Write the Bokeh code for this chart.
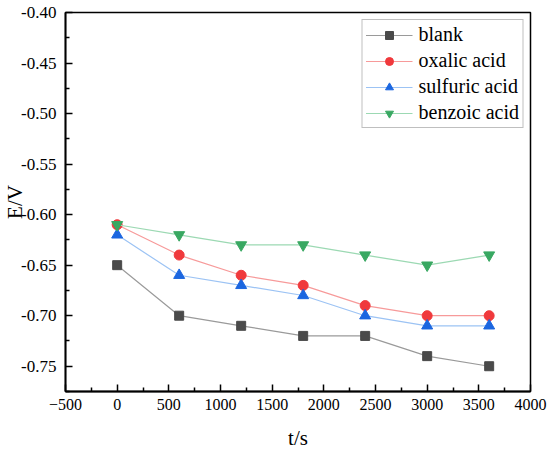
from bokeh.plotting import figure
from bokeh.models import Range1d, FixedTicker, NumeralTickFormatter, Legend
from bokeh.embed import file_html
from bokeh.resources import INLINE

t = [0, 600, 1200, 1800, 2400, 3000, 3600]
blank = [-0.65, -0.70, -0.71, -0.72, -0.72, -0.74, -0.75]
oxalic = [-0.61, -0.64, -0.66, -0.67, -0.69, -0.70, -0.70]
sulfuric = [-0.62, -0.66, -0.67, -0.68, -0.70, -0.71, -0.71]
benzoic = [-0.61, -0.62, -0.63, -0.63, -0.64, -0.65, -0.64]

x_ticks = [-500, 0, 500, 1000, 1500, 2000, 2500, 3000, 3500, 4000]
x_minor = [-250, 250, 750, 1250, 1750, 2250, 2750, 3250, 3750]
y_ticks = [-0.75, -0.70, -0.65, -0.60, -0.55, -0.50, -0.45, -0.40]
y_minor = [-0.775, -0.725, -0.675, -0.625, -0.575, -0.525, -0.475, -0.425]

FONT = "'Liberation Serif', 'Times New Roman', serif"

p = figure(width=550, height=452, output_backend="svg", toolbar_location=None,
           x_range=Range1d(-500, 4000), y_range=Range1d(-0.775, -0.40),
           min_border_left=63, min_border_right=20, min_border_top=12, min_border_bottom=60)
p.grid.visible = False
p.background_fill_color = "white"
p.border_fill_color = "white"
p.outline_line_color = "black"
p.outline_line_width = 1.5

for ax in (p.xaxis[0], p.yaxis[0]):
    ax.axis_line_width = 1.8
    ax.axis_line_color = "black"
    ax.major_tick_in = 7
    ax.major_tick_out = 0
    ax.minor_tick_in = 4
    ax.minor_tick_out = 0
    ax.major_tick_line_width = 1.5
    ax.minor_tick_line_width = 1.5
    ax.major_label_text_font = FONT
    ax.major_label_text_color = "black"
    ax.axis_label_text_font = FONT
    ax.axis_label_text_font_size = "21px"
    ax.axis_label_text_font_style = "normal"
    ax.axis_label_text_color = "black"

p.xaxis[0].major_label_text_font_size = "16px"
p.yaxis[0].major_label_text_font_size = "17px"
p.xaxis[0].ticker = FixedTicker(ticks=x_ticks, minor_ticks=x_minor)
p.yaxis[0].ticker = FixedTicker(ticks=y_ticks, minor_ticks=y_minor)
p.yaxis[0].formatter = NumeralTickFormatter(format="0.00")
p.xaxis[0].major_label_standoff = 7
p.yaxis[0].major_label_standoff = 9
p.xaxis[0].axis_label = "t/s"
p.xaxis[0].axis_label_standoff = 13
p.yaxis[0].axis_label = "E/V"
p.yaxis[0].axis_label_standoff = -9

series = [
    ("blank", blank, "#4a4a4a", "#9a9a9a", "square", 9),
    ("oxalic acid", oxalic, "#f0393c", "#f79a9a", "circle", 10),
    ("sulfuric acid", sulfuric, "#1b66e0", "#9cc3f4", "triangle", 11),
    ("benzoic acid", benzoic, "#39a862", "#9cd9b3", "inverted_triangle", 11),
]
items = []
for name, ys, mc, lc, mk, sz in series:
    l = p.line(t, ys, line_color=lc, line_width=1.2)
    s = p.scatter(t, ys, marker=mk, size=sz, fill_color=mc, line_color=mc)
    items.append((name, [l, s]))

legend = Legend(items=items, location="top_right")
legend.label_text_font = FONT
legend.label_text_font_size = "20px"
legend.label_text_color = "black"
legend.glyph_width = 47
legend.glyph_height = 20
legend.label_height = 20
legend.label_standoff = 6
legend.spacing = 3
legend.padding = 3
legend.margin = 7
legend.border_line_color = "#808080"
legend.border_line_width = 1
legend.background_fill_alpha = 1
p.add_layout(legend)

open("out.html", "w").write(file_html(p, INLINE))
